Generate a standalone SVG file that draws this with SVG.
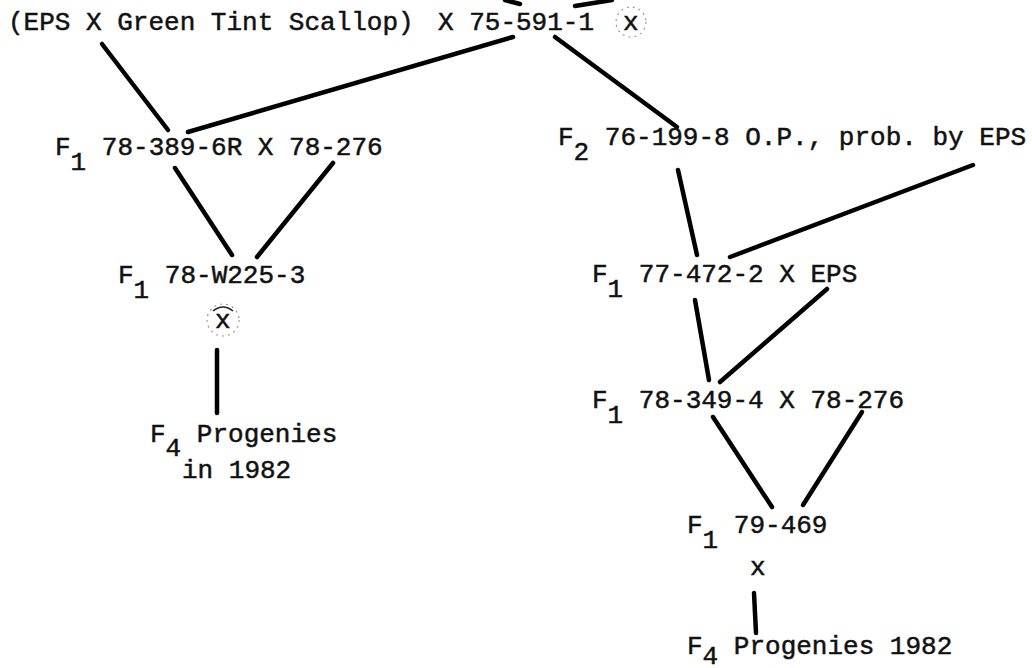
<svg xmlns="http://www.w3.org/2000/svg" width="1032" height="668" viewBox="0 0 1032 668">
<style>
text{font-family:"Liberation Mono","Courier New",monospace;font-size:26px;fill:#111;stroke:#111;stroke-width:0.5}
.ln{stroke:#000;stroke-width:4.5;stroke-linecap:round;fill:none}
.faint{fill:none;stroke:#999;stroke-width:1.2;stroke-dasharray:2 4}
</style>
<rect width="1032" height="668" fill="#fff"/>
<g id="connectors" class="ln">
<line x1="505" y1="0" x2="520" y2="4"/>
<line x1="575" y1="6" x2="612" y2="0"/>
<line x1="102" y1="44" x2="168" y2="130"/>
<line x1="513" y1="37" x2="188" y2="132"/>
<line x1="555" y1="37" x2="677" y2="127"/>
<line x1="175" y1="168" x2="232" y2="255"/>
<line x1="333" y1="163" x2="257" y2="257"/>
<line x1="217" y1="350" x2="217" y2="413"/>
<line x1="678" y1="170" x2="697" y2="255"/>
<line x1="973" y1="165" x2="730" y2="257"/>
<line x1="695" y1="300" x2="709" y2="380"/>
<line x1="827" y1="289" x2="720" y2="382"/>
<line x1="713" y1="417" x2="772" y2="507"/>
<line x1="862" y1="412" x2="803" y2="505"/>
<line x1="754" y1="593" x2="756" y2="633"/>
</g>
<g id="n-top">
<text x="8" y="30">(EPS X Green Tint Scallop)</text>
<text x="438" y="30">X 75-591-1</text>
<circle class="faint" cx="631" cy="22" r="15"/>
<text x="623" y="30">x</text>
</g>
<g id="n-f1-389">
<text x="55" y="155">F<tspan dy="15">1</tspan><tspan dy="-15"> 78-389-6R X 78-276</tspan></text>
</g>
<g id="n-f1-w225">
<text x="118" y="283">F<tspan dy="15">1</tspan><tspan dy="-15"> 78-W225-3</tspan></text>
<circle class="faint" cx="223" cy="320" r="16"/>
<path d="M213 311 Q223 303 233 311" fill="none" stroke="#222" stroke-width="1.5"/>
<text x="215" y="328">x</text>
</g>
<g id="n-f4-left">
<text x="150" y="442">F<tspan dy="14">4</tspan><tspan dy="-14"> Progenies</tspan></text>
<text x="182" y="478">in 1982</text>
</g>
<g id="n-f2">
<text x="558" y="145">F<tspan dy="15">2</tspan><tspan dy="-15"> 76-199-8 O.P., prob. by EPS</tspan></text>
</g>
<g id="n-f1-472">
<text x="592" y="282">F<tspan dy="15">1</tspan><tspan dy="-15"> 77-472-2 X EPS</tspan></text>
</g>
<g id="n-f1-349">
<text x="592" y="408">F<tspan dy="15">1</tspan><tspan dy="-15"> 78-349-4 X 78-276</tspan></text>
</g>
<g id="n-f1-469">
<text x="687" y="533">F<tspan dy="15">1</tspan><tspan dy="-15"> 79-469</tspan></text>
<text x="750" y="575">x</text>
</g>
<g id="n-f4-right">
<text x="687" y="654">F<tspan dy="10">4</tspan><tspan dy="-10"> Progenies 1982</tspan></text>
</g>
</svg>
